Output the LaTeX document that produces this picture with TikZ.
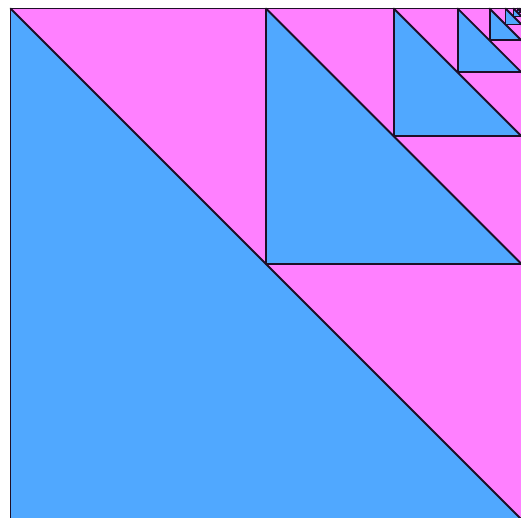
\documentclass[tikz,border=0pt]{standalone}
\definecolor{triblue}{HTML}{50A8FF}
\definecolor{tripink}{HTML}{FF80FF}
\definecolor{edgecol}{HTML}{1E0F28}
\tikzset{
  edge/.style={draw=edgecol, line width=1.9pt, line cap=round, line join=round},
}
\begin{document}
\begin{tikzpicture}[x=1pt,y=-1pt]
\useasboundingbox (0,0) rectangle (521,518);
\fill[white] (0,0) rectangle (521,518);
\pgfmathsetmacro{\R}{521.5}
\pgfmathsetmacro{\T}{8.5}
\foreach \k in {0,...,8}{
  \pgfmathsetmacro{\s}{511/(2^\k)}
  \pgfmathsetmacro{\xa}{\R-\s}
  \pgfmathsetmacro{\yb}{\T+\s}
  \fill[tripink] (\xa,\T) rectangle (\R,\yb);
  \fill[triblue] (\xa,\T) -- (\xa,\yb) -- (\R,\yb) -- cycle;
  \draw[edge] (\xa,\T) rectangle (\R,\yb);
  \draw[edge] (\xa,\T) -- (\R,\yb);
}
\end{tikzpicture}
\end{document}
